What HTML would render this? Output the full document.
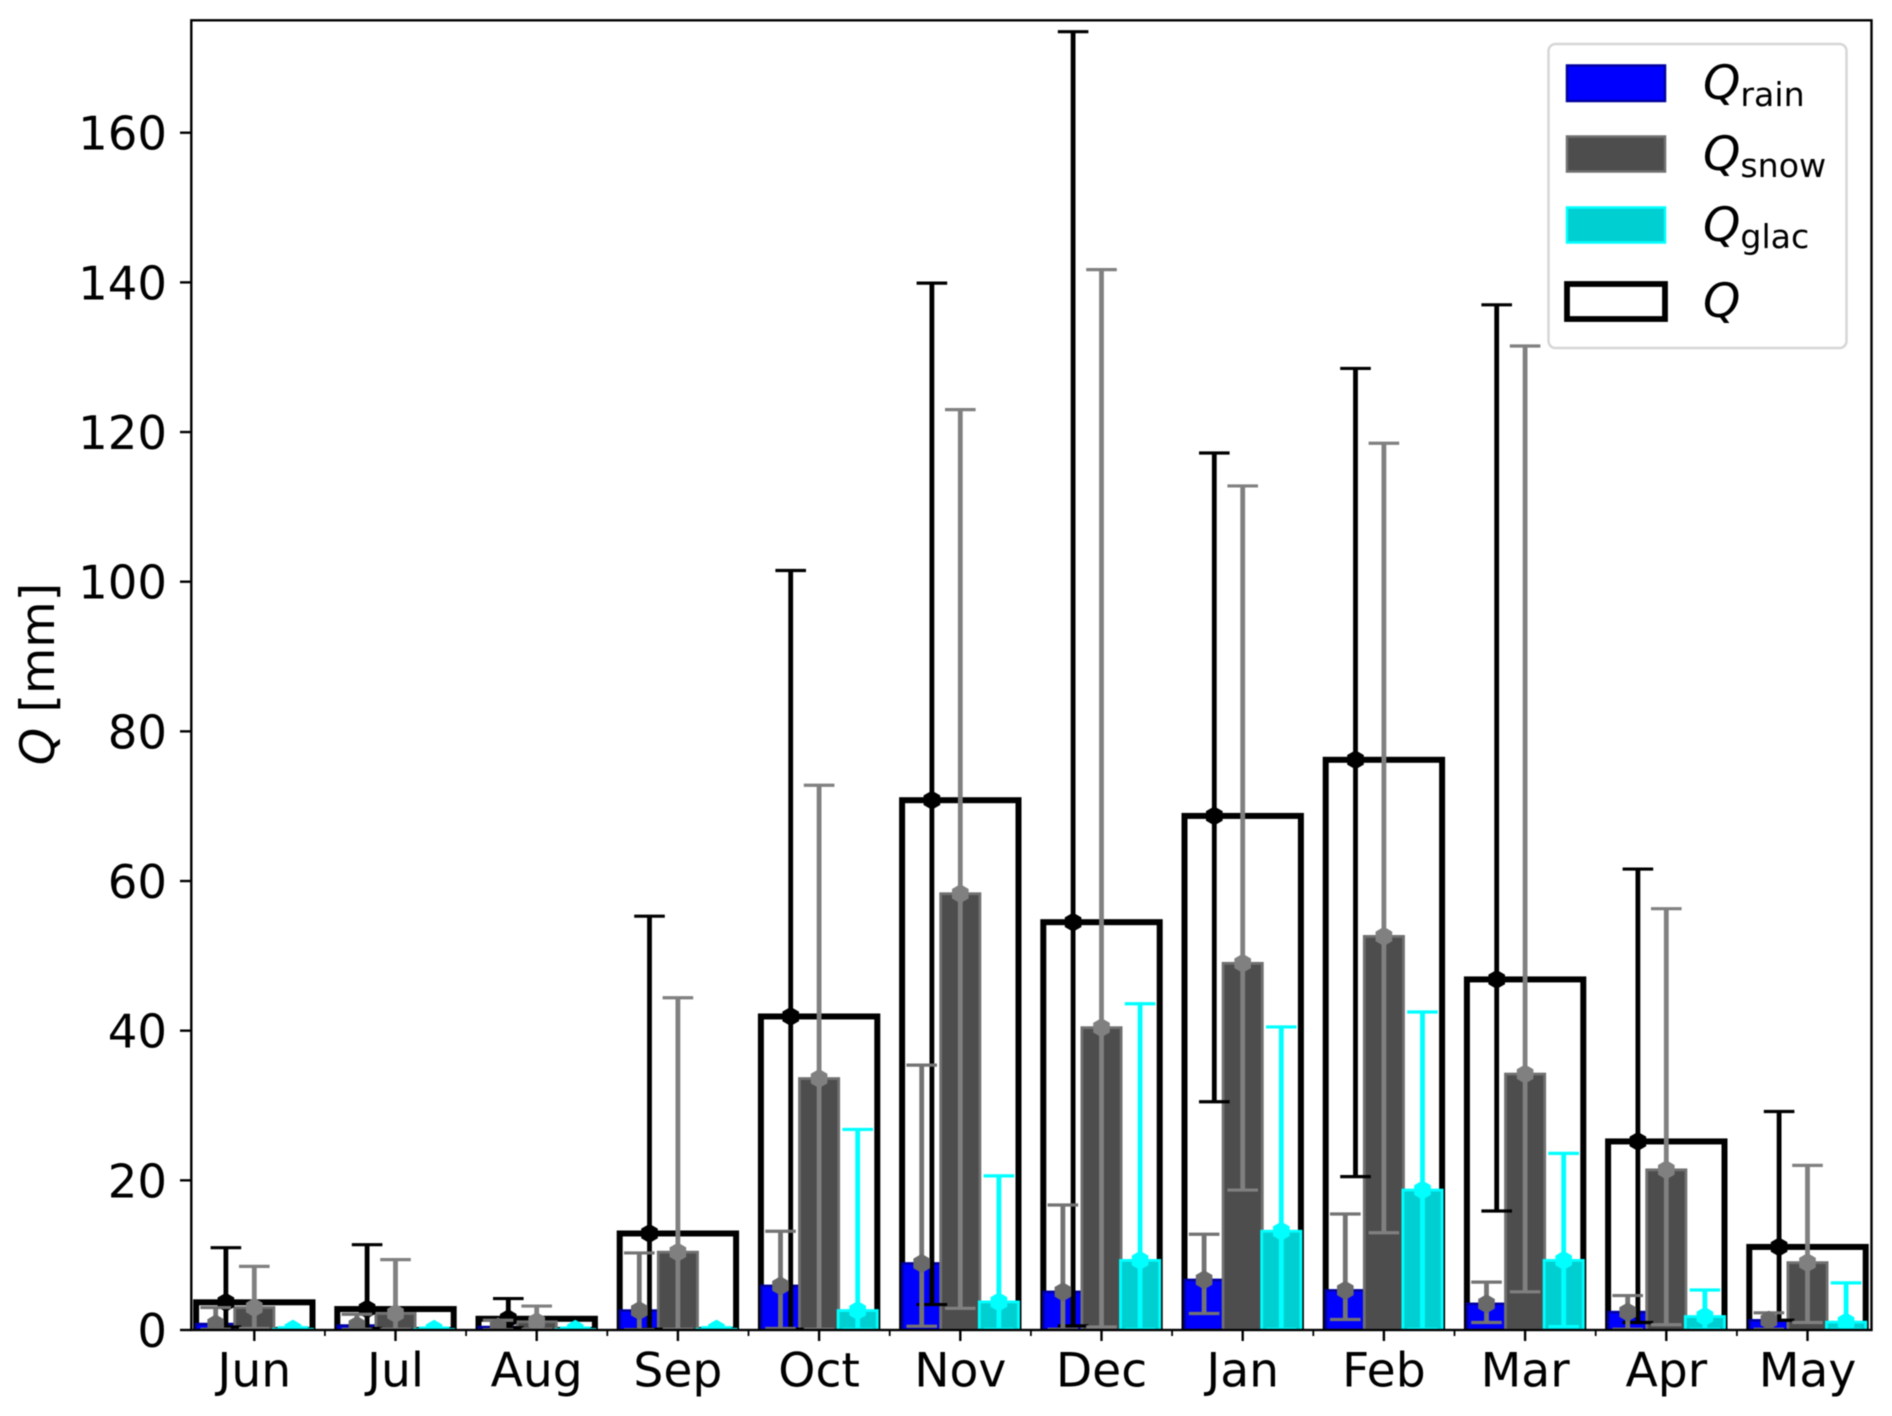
<!DOCTYPE html>
<html lang="en">
<head>
<meta charset="utf-8">
<title>Monthly runoff components</title>
<style>
html,body{margin:0;padding:0;background:#fff;}
svg{display:block;filter:blur(0.5px);}
text{font-family:"DejaVu Sans","Liberation Sans",sans-serif;fill:#000;}
</style>
</head>
<body>
<svg id="chart" xmlns="http://www.w3.org/2000/svg" width="1892" height="1416" viewBox="0 0 1892 1416">
  <defs>
    <clipPath id="plot-clip"><rect x="191.3" y="20.3" width="1680.2" height="1309.7"/></clipPath>
  </defs>
  <rect x="0" y="0" width="1892" height="1416" fill="#ffffff"/>
  <g id="marks" clip-path="url(#plot-clip)"></g>
  <g id="axes"></g>
  <text transform="translate(54,674) rotate(-90)" text-anchor="middle" font-size="47.6"><tspan font-style="italic">Q</tspan> [mm]</text>
  <g>
    <rect x="1548.5" y="44" width="298" height="304" rx="7" ry="7" fill="#ffffff" fill-opacity="0.85" stroke="#d6d6d6" stroke-width="2.5"/>
    <g>
      <rect x="1567" y="65.5" width="98" height="35.5" fill="#0000ff" stroke="#0000a0" stroke-width="2.5"/>
      <text x="1703" y="99" font-size="47.5"><tspan font-style="italic">Q</tspan><tspan font-size="33.2" dy="7">rain</tspan></text>
    </g>
    <g>
      <rect x="1567" y="136.5" width="98" height="35" fill="#4d4d4d" stroke="#707070" stroke-width="2.5"/>
      <text x="1703" y="170" font-size="47.5"><tspan font-style="italic">Q</tspan><tspan font-size="33.2" dy="7">snow</tspan></text>
    </g>
    <g>
      <rect x="1567" y="207.5" width="98" height="35" fill="#00cfd1" stroke="#00ffff" stroke-width="2.5"/>
      <text x="1703" y="241" font-size="47.5"><tspan font-style="italic">Q</tspan><tspan font-size="33.2" dy="7">glac</tspan></text>
    </g>
    <g>
      <rect x="1567" y="284" width="98" height="35" fill="#ffffff" stroke="#000000" stroke-width="5.8"/>
      <text x="1703" y="317" font-size="47.5" font-style="italic">Q</text>
    </g>
  </g>
</svg>
<script>
const months = ["Jun","Jul","Aug","Sep","Oct","Nov","Dec","Jan","Feb","Mar","Apr","May"];
const yTicks = [0,20,40,60,80,100,120,140,160];

const totalMean  = [3.7,2.8,1.5,12.9,41.9,70.8,54.5,68.7,76.2,46.85,25.2,11.1];
const totalUpper = [11.0,11.4,4.2,55.3,101.5,139.9,173.5,117.2,128.5,137.0,61.6,29.2];
const totalLower = [0.4,0.2,0.3,0.1,0.1,3.4,0.55,30.5,20.5,15.9,1.0,1.3];

const rainMean  = [0.8,0.6,0.4,2.6,5.9,8.9,5.1,6.7,5.3,3.5,2.4,1.3];
const rainUpper = [3.0,2.1,1.3,10.3,13.2,35.4,16.7,12.8,15.5,6.4,4.6,2.3];
const rainLower = [0.1,0.1,0.05,0.05,0.2,0.5,0.1,2.2,1.4,1.0,0.1,0.1];

const snowMean  = [3.0,2.2,1.1,10.4,33.6,58.3,40.4,49.0,52.6,34.2,21.4,9.0];
const snowUpper = [8.5,9.4,3.2,44.4,72.8,123.0,141.7,112.8,118.5,131.5,56.3,22.0];
const snowLower = [0.2,0.1,0.1,0.1,0.1,2.9,0.4,18.7,13.0,5.1,0.7,1.0];

const glacMean  = [0.1,0.08,0.08,0.1,2.6,3.75,9.3,13.2,18.7,9.3,1.8,1.05];
const glacUpper = [0.3,0.25,0.25,0.3,26.8,20.6,43.6,40.5,42.5,23.6,5.35,6.3];
const glacLower = [0.03,0.03,0.03,0.03,0.1,0.1,0.1,0.1,0.1,0.45,0.1,0.05];

const SVG_NS = "http://www.w3.org/2000/svg";
const marks = document.getElementById("marks");
const axes = document.getElementById("axes");

function xScale(i){ return 254.3 + i * 141.2; }
function yScale(v){ return 1330 - v * 7.483; }

function make(tag, attrs, parent){
  const el = document.createElementNS(SVG_NS, tag);
  for (const k in attrs) el.setAttribute(k, attrs[k]);
  parent.appendChild(el);
  return el;
}

function drawBar(i, value, offset, halfWidth, fill, stroke, sw, name){
  const cx = xScale(i) + offset;
  const el = make("rect", {
    x: cx - halfWidth, y: yScale(value),
    width: halfWidth * 2, height: Math.max(yScale(0) - yScale(value), 0),
    fill: fill, stroke: stroke, "stroke-width": sw
  }, marks);
  
  
}

function drawError(i, mean, upper, lower, offset, color, markerColor, name){
  const cx = xScale(i) + offset;
  const g = make("g", {}, marks);
  
  
  make("line", {x1:cx, x2:cx, y1:yScale(lower), y2:yScale(upper), stroke:color, "stroke-width":4.8}, g);
  make("line", {x1:cx-15.3, x2:cx+15.3, y1:yScale(upper), y2:yScale(upper), stroke:color, "stroke-width":3.2}, g);
  make("line", {x1:cx-15.3, x2:cx+15.3, y1:yScale(lower), y2:yScale(lower), stroke:color, "stroke-width":3.2}, g);
  const cy = yScale(mean), r = 9.6;
  const pts = [];
  for (let k = 0; k < 6; k++) {
    const a = Math.PI / 2 + k * Math.PI / 3;
    pts.push((cx + r * Math.cos(a)).toFixed(2) + "," + (cy + r * Math.sin(a)).toFixed(2));
  }
  make("polygon", {points: pts.join(" "), fill: markerColor}, g);
}

const BAR_STEP = 38.6;
const Q_OFFSET = -28.4;

months.forEach(function(m, i){
  drawBar(i, totalMean[i], 0, 58.2, "none", "#000000", 6, "total");
});
months.forEach(function(m, i){
  drawBar(i, rainMean[i], -BAR_STEP, 19.4, "#0000ff", "#0000a0", 2.5, "rain");
});
months.forEach(function(m, i){
  drawBar(i, snowMean[i], 0, 19.6, "#4d4d4d", "#707070", 2.8, "snow");
});
months.forEach(function(m, i){
  drawBar(i, glacMean[i], BAR_STEP, 19.6, "#00cfd1", "#00ffff", 2.8, "glac");
});
months.forEach(function(m, i){
  drawError(i, totalMean[i], totalUpper[i], totalLower[i], Q_OFFSET, "#000000", "#000000", "total");
});
months.forEach(function(m, i){
  drawError(i, rainMean[i], rainUpper[i], rainLower[i], -BAR_STEP, "#737373", "#696969", "rain");
});
months.forEach(function(m, i){
  drawError(i, snowMean[i], snowUpper[i], snowLower[i], 0, "#808080", "#808080", "snow");
});
months.forEach(function(m, i){
  drawError(i, glacMean[i], glacUpper[i], glacLower[i], BAR_STEP, "#00ffff", "#00ffff", "glac");
});

yTicks.forEach(function(v){
  const y = yScale(v);
  const tick = make("line", {x1:180, x2:191.3, y1:y, y2:y, stroke:"#000", "stroke-width":2.4}, axes);
  
  
  const label = make("text", {x:167, y:y + 17, "text-anchor":"end", "font-size":46.6}, axes);
  label.textContent = String(v);
  
  
});

months.forEach(function(m, i){
  const x = xScale(i);
  const tick = make("line", {x1:x, x2:x, y1:1330, y2:1341, stroke:"#000", "stroke-width":2.4}, axes);
  
  
  const label = make("text", {x:x, y:1386.5, "text-anchor":"middle", "font-size":47.2}, axes);
  label.textContent = m;
  
  
  if (i < months.length - 1) {
    const mx = xScale(i + 0.5);
    const minor = make("line", {x1:mx, x2:mx, y1:1330, y2:1336, stroke:"#000", "stroke-width":1.8}, axes);
    
    
  }
});

const spine = make("rect", {x:191.3, y:20.3, width:1680.2, height:1309.7, fill:"none", stroke:"#000", "stroke-width":2.4}, axes);


</script>
</body>
</html>
